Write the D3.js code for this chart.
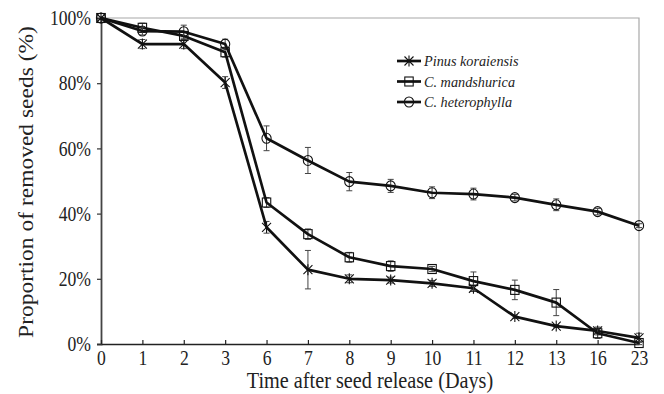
<!DOCTYPE html>
<html>
<head>
<meta charset="utf-8">
<script src="https://cdn.jsdelivr.net/npm/d3@7"></script>
<style>
  body { margin: 0; background: #fff; }
  svg { font-family: "Liberation Serif", "Times New Roman", serif; }
</style>
</head>
<body>
<svg id="chart" width="664" height="394"></svg>
<script>
// days after release (equally spaced categories)
var days = ["0", "1", "2", "3", "6", "7", "8", "9", "10", "11", "12", "13", "16", "23"];

var pinusVals = [100, 92, 92, 80.2, 35.8, 22.8, 20.0, 19.6, 18.6, 17.1, 8.4, 5.5, 4.0, 1.9];
var pinusErr  = [0, 1.4, 1.4, 1.8, 1.8, 5.9, 1.2, 0.9, 0.9, 1.0, 0.5, 0.4, 1.2, 1.4];

var mandVals = [100, 97, 94.5, 89.5, 43.4, 33.7, 26.6, 23.9, 23.0, 19.3, 16.6, 12.7, 3.3, 0.3];
var mandErr  = [0, 1.4, 1.2, 1.5, 1.5, 1.6, 1.5, 1.6, 0.8, 2.8, 3.0, 4.0, 1.6, 0.5];

var hetVals = [100, 96, 95.8, 92, 63.1, 56.3, 49.8, 48.5, 46.4, 46.0, 44.9, 42.7, 40.6, 36.3];
var hetErr  = [0, 1.2, 2.0, 1.5, 3.8, 4.0, 2.8, 2.0, 1.8, 1.8, 1.0, 1.8, 1.0, 0.6];

var seriesNames = ["Pinus koraiensis", "C. mandshurica", "C. heterophylla"];
var seriesShapes = ["star", "square", "circle"];

var yTicks = [0, 20, 40, 60, 80, 100];

var series = [
  { name: seriesNames[0], shape: seriesShapes[0], vals: pinusVals, err: pinusErr },
  { name: seriesNames[1], shape: seriesShapes[1], vals: mandVals, err: mandErr },
  { name: seriesNames[2], shape: seriesShapes[2], vals: hetVals, err: hetErr }
];

var svg = d3.select("#chart");
var plotL = 101, plotR = 639, plotT = 18, plotB = 344;
var sx = 0.88; // the figure text is a bit narrow for its height

var x = d3.scalePoint().domain(days).range([plotL, plotR]).padding(0);
var y = d3.scaleLinear().domain([0, 100]).range([plotB, plotT]);

// frame: gray top/right
svg.append("path")
  .attr("d", "M" + plotL + "," + plotT + "H" + plotR + "V" + plotB)
  .attr("fill", "none").attr("stroke", "#a8a8a8").attr("stroke-width", 1.2);

// y axis
var yAxis = svg.append("g")
  .attr("transform", "translate(" + plotL + ",0)")
  .call(d3.axisLeft(y).tickValues(yTicks).tickSize(4).tickFormat(function(d) { return d + "%"; }));
yAxis.select(".domain").attr("stroke", "#444").attr("stroke-width", 1.8);
yAxis.selectAll(".tick line").attr("stroke", "#333").attr("stroke-width", 1.2);
yAxis.selectAll("text")
  .attr("font-size", 20).attr("fill", "#222")
  .attr("font-family", "Liberation Serif, serif")
  .attr("x", 0).attr("dy", "0.33em")
  .attr("transform", "translate(-10,0) scale(" + sx + ",1)");

// x axis, ticks inward
var xAxis = svg.append("g")
  .attr("transform", "translate(0," + plotB + ")")
  .call(d3.axisBottom(x).tickSizeInner(-4).tickSizeOuter(0));
xAxis.select(".domain").attr("stroke", "#222").attr("stroke-width", 1.6);
xAxis.selectAll(".tick line").attr("stroke", "#222").attr("stroke-width", 1.2);
xAxis.selectAll("text")
  .attr("font-size", 20).attr("fill", "#222")
  .attr("font-family", "Liberation Serif, serif")
  .attr("y", 21).attr("dy", 0)
  .attr("transform", "scale(" + sx + ",1)");

// axis titles
svg.append("text")
  .attr("transform", "translate(370,388) scale(" + sx + ",1)")
  .attr("text-anchor", "middle").attr("font-size", 23).attr("fill", "#222")
  .text("Time after seed release (Days)");
svg.append("text")
  .attr("transform", "translate(33,182) scale(" + sx + ",1) rotate(-90)")
  .attr("text-anchor", "middle").attr("font-size", 23.5).attr("fill", "#222")
  .text("Proportion of removed seeds (%)");

function drawMarker(g, shape, cx, cy) {
  if (shape === "circle") {
    g.append("ellipse").attr("cx", cx).attr("cy", cy).attr("rx", 4.6).attr("ry", 5)
      .attr("fill", "none").attr("stroke", "#111").attr("stroke-width", 1.1);
  } else if (shape === "square") {
    g.append("rect").attr("x", cx - 4.2).attr("y", cy - 4.5).attr("width", 8.4).attr("height", 9)
      .attr("fill", "none").attr("stroke", "#111").attr("stroke-width", 1.1);
  } else {
    var s = 4.5;
    g.append("path")
      .attr("d", "M" + (cx - s) + "," + (cy - s) + "L" + (cx + s) + "," + (cy + s) +
        "M" + (cx - s) + "," + (cy + s) + "L" + (cx + s) + "," + (cy - s) +
        "M" + cx + "," + (cy - s - 1) + "L" + cx + "," + (cy + s + 1))
      .attr("stroke", "#111").attr("stroke-width", 1.1);
  }
}

var line = d3.line()
  .x(function(d, i) { return x(days[i]); })
  .y(function(d) { return y(d); });

series.forEach(function(s) {
  var g = svg.append("g");
  // error bars
  s.vals.forEach(function(v, i) {
    if (!s.err[i]) return;
    var cx = x(days[i]);
    var y0 = y(v - s.err[i]), y1 = y(Math.min(v + s.err[i], 100.5));
    g.append("path")
      .attr("d", "M" + cx + "," + y0 + "V" + y1 +
        "M" + (cx - 3) + "," + y0 + "H" + (cx + 3) +
        "M" + (cx - 3) + "," + y1 + "H" + (cx + 3))
      .attr("stroke", "#444").attr("stroke-width", 1).attr("fill", "none");
  });
  g.append("path").datum(s.vals)
    .attr("d", line)
    .attr("fill", "none").attr("stroke", "#111").attr("stroke-width", 2.7)
    .attr("stroke-linejoin", "round");
  s.vals.forEach(function(v, i) {
    drawMarker(g, s.shape, x(days[i]), y(v));
  });
});

// legend
var lg = svg.append("g");
series.forEach(function(s, i) {
  var ly = 61 + i * 20.5;
  lg.append("line").attr("x1", 397).attr("x2", 421).attr("y1", ly).attr("y2", ly)
    .attr("stroke", "#111").attr("stroke-width", 2.7);
  drawMarker(lg, s.shape, 409, ly);
  lg.append("text")
    .attr("transform", "translate(424," + (ly + 5) + ") scale(0.92,1)")
    .attr("font-size", 15.5).attr("font-style", "italic").attr("fill", "#222")
    .text(s.name);
});
</script>
</body>
</html>
